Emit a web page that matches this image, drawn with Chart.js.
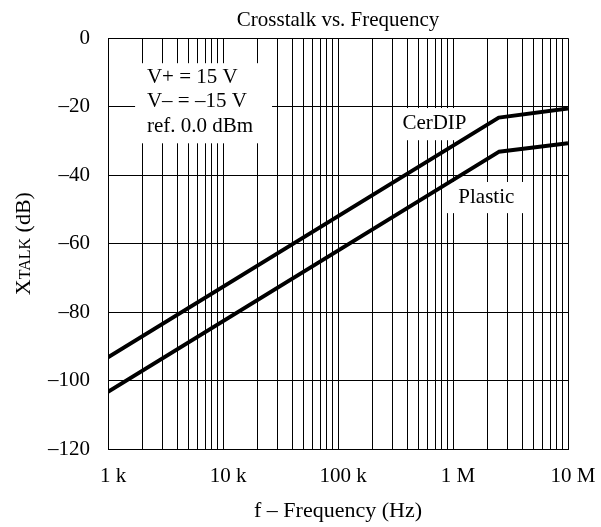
<!DOCTYPE html>
<html>
<head>
<meta charset="utf-8">
<script src="https://cdn.jsdelivr.net/npm/chart.js@4.4.0/dist/chart.umd.min.js"></script>
<style>
  html, body { margin: 0; padding: 0; background: #fff; }
</style>
</head>
<body>
<canvas id="chart" width="601" height="527"></canvas>
<script>
// data (frequency in Hz, crosstalk in dB)
const freqs = [1e3, 2.5e6, 1e7];
const cerdip = [-93.2, -23.2, -20.5];
const plastic = [-103.3, -33.2, -30.7];

// log grid: 1..9 in each decade, labels only on decades
const decades = [1e3, 1e4, 1e5, 1e6];
const steps = [1, 2, 3, 4, 5, 6, 7, 8, 9];
const xLabels = { 1000: '1 k', 10000: '10 k', 100000: '100 k', 1000000: '1 M', 10000000: '10 M' };
const yTicks = [0, -20, -40, -60, -80, -100, -120];
const yLabels = ['0', '–20', '–40', '–60', '–80', '–100', '–120'];

const xGrid = [];
decades.forEach(d => steps.forEach(s => xGrid.push(d * s)));
xGrid.push(1e7);

// text boxes on the plot, placed in data units
const notes = [
    { lines: ['V+ = 15 V', 'V– = –15 V', 'ref. 0.0 dBm'], x: 2.18e3, ys: [-11.4, -18.5, -25.7], align: 'left',
      box: [1.72e3, 26.7e3, -7.3, -30.7] },
    { lines: ['CerDIP'], x: 690e3, ys: [-24.8], align: 'center', box: [350e3, 1.4e6, -20.4, -29.8] },
    { lines: ['Plastic'], x: 1.95e6, ys: [-46.4], align: 'center', box: [887e3, 4.4e6, -42.0, -51.1] }
];

const FONT = '"Liberation Serif", "Times New Roman", serif';
Chart.defaults.font.family = FONT;
Chart.defaults.color = '#000';

const notesPlugin = {
    id: 'notes',
    beforeDatasetsDraw(chart) {
        const { ctx, scales: { x, y } } = chart;
        ctx.save();
        notes.forEach(n => {
            const x0 = x.getPixelForValue(n.box[0]), x1 = x.getPixelForValue(n.box[1]);
            const y0 = y.getPixelForValue(n.box[2]), y1 = y.getPixelForValue(n.box[3]);
            ctx.fillStyle = '#fff';
            ctx.fillRect(x0, y0, x1 - x0, y1 - y0);
            ctx.fillStyle = '#000';
            ctx.font = '21px ' + FONT;
            ctx.textAlign = n.align;
            ctx.textBaseline = 'middle';
            n.lines.forEach((t, i) => ctx.fillText(t, x.getPixelForValue(n.x), y.getPixelForValue(n.ys[i])));
        });
        ctx.restore();
    },
    afterDraw(chart) {
        // y title with small "TALK"
        const { ctx, chartArea } = chart;
        const parts = [['X', 22], ['TALK', 16], [' (dB)', 22]];
        ctx.save();
        ctx.translate(30, (chartArea.top + chartArea.bottom) / 2);
        ctx.rotate(-Math.PI / 2);
        ctx.fillStyle = '#000';
        ctx.textAlign = 'left';
        ctx.textBaseline = 'alphabetic';
        let total = 0;
        parts.forEach(([t, s]) => { ctx.font = s + 'px ' + FONT; total += ctx.measureText(t).width; });
        let pos = -total / 2;
        parts.forEach(([t, s]) => {
            ctx.font = s + 'px ' + FONT;
            ctx.fillText(t, pos, 0);
            pos += ctx.measureText(t).width;
        });
        ctx.restore();
    }
};

const lineStyle = { borderColor: '#000', borderWidth: 4, pointRadius: 0, fill: false, tension: 0, borderJoinStyle: 'round' };

new Chart(document.getElementById('chart'), {
    type: 'line',
    data: {
        datasets: [
            { label: 'CerDIP', data: freqs.map((f, i) => ({ x: f, y: cerdip[i] })), ...lineStyle },
            { label: 'Plastic', data: freqs.map((f, i) => ({ x: f, y: plastic[i] })), ...lineStyle }
        ]
    },
    options: {
        responsive: false,
        animation: false,
        layout: { padding: { left: 0, right: 33, top: 0, bottom: 0 } },
        plugins: {
            legend: { display: false },
            tooltip: { enabled: false },
            title: {
                display: true,
                text: 'Crosstalk vs. Frequency',
                fullSize: false,
                color: '#000',
                font: { size: 21, weight: 'normal' },
                padding: { top: 8, bottom: 5 }
            }
        },
        scales: {
            x: {
                type: 'logarithmic',
                min: 1e3,
                max: 1e7,
                afterBuildTicks: s => { s.ticks = xGrid.map(v => ({ value: v })); },
                afterFit: s => { s.height = 78; s.paddingLeft = 0; s.paddingRight = 0; },
                grid: { color: '#000', lineWidth: 1, drawTicks: false },
                border: { color: '#000', width: 1 },
                ticks: {
                    autoSkip: false,
                    maxRotation: 0,
                    padding: 15,
                    labelOffset: 5,
                    font: { size: 21 },
                    callback: v => xLabels[v] ?? ''
                },
                title: {
                    display: true,
                    text: 'f – Frequency (Hz)',
                    font: { size: 22 },
                    padding: { top: 0, bottom: 3 }
                }
            },
            y: {
                min: -120,
                max: 0,
                afterBuildTicks: s => { s.ticks = yTicks.map(v => ({ value: v })); },
                afterFit: s => { s.width = 108; },
                grid: { color: '#000', lineWidth: 1, drawTicks: false },
                border: { color: '#000', width: 1 },
                ticks: {
                    padding: 18,
                    font: { size: 21 },
                    callback: v => yLabels[yTicks.indexOf(v)]
                }
            }
        }
    },
    plugins: [notesPlugin]
});
</script>
</body>
</html>
